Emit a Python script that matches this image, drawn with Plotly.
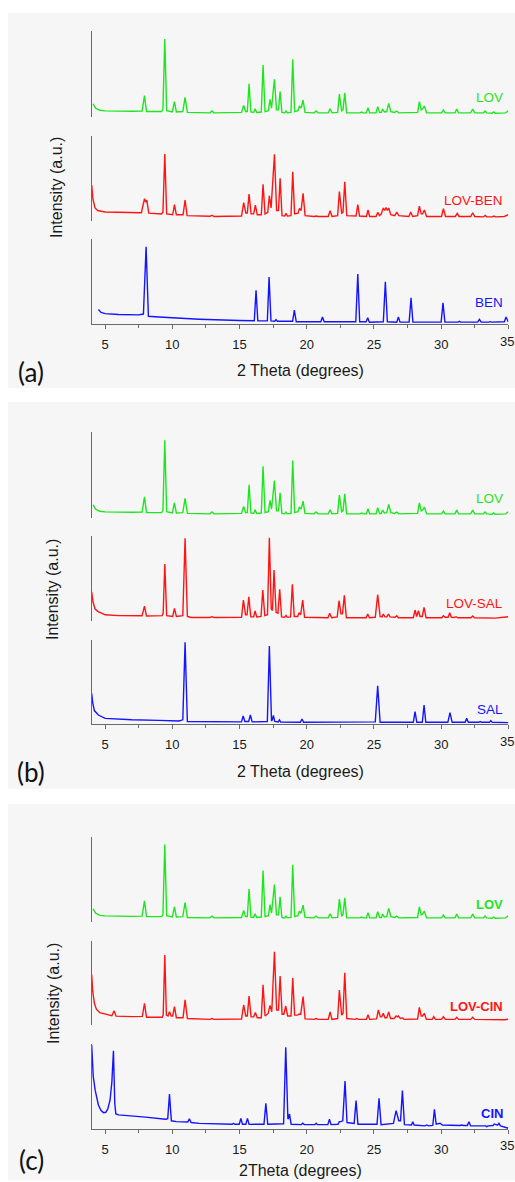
import plotly.graph_objects as go

# ---------------- data (2-theta in degrees, intensity in % of each strip) ----------------
LOV = [(4.1, 15), (4.3, 10), (4.6, 7.5), (5.0, 6.8), (7.0, 6.3), (7.75, 6.5), (7.93, 24.5), (8.08, 6),
       (9.2, 6), (9.3, 8), (9.44, 90.7), (9.58, 7), (10.0, 5.5), (10.16, 17.5), (10.3, 5.5), (10.78, 6),
       (10.95, 22.6), (11.12, 5), (12.8, 4.5), (12.96, 6.6), (13.1, 4.5), (15.15, 5), (15.31, 13.2),
       (15.45, 6), (15.58, 6), (15.71, 38.5), (15.85, 5.5), (16.05, 5), (16.16, 9.3), (16.28, 5),
       (16.62, 5.5), (16.75, 60.3), (16.9, 6), (17.15, 7), (17.27, 20.2), (17.38, 10), (17.6, 43.6),
       (17.75, 8), (17.9, 8), (18.02, 29.2), (18.15, 5), (18.36, 4.5), (18.46, 6.6), (18.56, 4.5),
       (18.83, 5), (18.96, 66.9), (19.1, 6), (19.35, 7), (19.46, 12.5), (19.58, 10), (19.73, 19.5),
       (19.87, 5), (20.55, 4.5), (20.7, 6.6), (20.85, 4.5), (21.6, 4.5), (21.74, 9.3), (21.88, 4.5),
       (22.3, 5), (22.43, 26.5), (22.6, 7), (22.7, 8), (22.83, 28), (22.97, 4.5), (23.95, 4.5),
       (24.09, 5.5), (24.2, 4.5), (24.44, 4.5), (24.56, 10.5), (24.68, 4.5), (25.16, 4.5), (25.28, 11.7),
       (25.42, 5), (25.55, 5), (25.65, 8.9), (25.78, 5.5), (25.95, 6), (26.1, 15.6), (26.26, 6),
       (26.55, 5), (26.7, 6.6), (26.85, 4.5), (28.25, 5), (28.38, 17.5), (28.52, 8), (28.62, 9),
       (28.75, 12.5), (28.92, 4.5), (30.03, 4.5), (30.17, 7.8), (30.3, 4.5), (31.03, 4.5), (31.16, 8.9),
       (31.3, 4.5), (32.2, 4.5), (32.35, 8.9), (32.5, 4.5), (33.15, 4.5), (33.27, 6.6), (33.4, 4.5),
       (33.78, 4), (33.9, 5.5), (34.02, 4), (34.8, 4.5), (35, 7)]

LOV_BEN = [(4.0, 42), (4.1, 25), (4.25, 15), (4.45, 12), (5, 10.2), (6, 9.8), (7.7, 9.4), (7.93, 26),
           (8.02, 22), (8.1, 24.4), (8.25, 9), (9.2, 8), (9.3, 10), (9.44, 78.7), (9.58, 8), (10.03, 7),
           (10.16, 18.9), (10.3, 7), (10.8, 7), (10.95, 24.4), (11.1, 6), (12.8, 5.2), (12.96, 6.5),
           (13.1, 5), (15.15, 5.5), (15.31, 21.3), (15.47, 9), (15.58, 9), (15.71, 31.5), (15.86, 8),
           (16.05, 8), (16.18, 18.5), (16.32, 7), (16.62, 7), (16.75, 42.9), (16.9, 8), (17.1, 10),
           (17.22, 29.5), (17.35, 15), (17.6, 78.3), (17.76, 12), (17.9, 12), (18.02, 50), (18.16, 6),
           (18.36, 5.5), (18.46, 8.7), (18.56, 5.5), (18.83, 6), (18.96, 57.9), (19.1, 8), (19.36, 9),
           (19.46, 14.6), (19.58, 12), (19.73, 32.3), (19.88, 6), (20.55, 5), (20.7, 5.5), (20.85, 5),
           (21.6, 5), (21.74, 11.8), (21.88, 5), (22.3, 6), (22.43, 34.3), (22.6, 9), (22.7, 10),
           (22.83, 46), (22.98, 6), (23.67, 5.5), (23.8, 18.9), (23.93, 5.5), (24.44, 5), (24.56, 12.6),
           (24.68, 5), (25.16, 5), (25.28, 9.8), (25.42, 6), (25.55, 8), (25.7, 15), (25.8, 12),
           (25.9, 15.7), (26.0, 12), (26.1, 15), (26.25, 7), (26.55, 6), (26.7, 10.2), (26.85, 6),
           (27.6, 5), (27.74, 10.2), (27.88, 5), (28.25, 6), (28.38, 17.3), (28.52, 8), (28.62, 8),
           (28.75, 12.6), (28.92, 5), (30.03, 5), (30.17, 14.2), (30.33, 5), (31.05, 5), (31.2, 8.7),
           (31.33, 5), (32.2, 5), (32.35, 9.4), (32.5, 5), (33.15, 4.5), (33.27, 6.3), (33.4, 4.5),
           (33.8, 4.5), (33.92, 5.5), (34.05, 4.5), (34.7, 5), (35, 7.1)]

BEN = [(4.5, 17.3), (4.7, 14), (5.0, 12.5), (6.0, 11.5), (7.5, 11), (7.85, 12), (8.05, 91), (8.22, 9.4),
       (9, 8.5), (10, 7.5), (12, 6), (15, 4.5), (16.1, 4.2), (16.23, 40), (16.36, 4), (17.07, 4),
       (17.2, 55.3), (17.34, 4), (17.62, 3.5), (17.72, 5.5), (17.82, 3.5), (18.95, 3.5), (19.08, 16.5),
       (19.22, 3), (21.05, 3), (21.17, 8.6), (21.3, 3), (23.65, 3), (23.8, 58.8), (23.94, 3),
       (24.42, 3), (24.54, 7.8), (24.66, 2.5), (25.7, 3), (25.85, 49.8), (26.0, 3), (26.7, 2.5),
       (26.82, 8.6), (26.94, 2.5), (27.62, 2.5), (27.76, 31), (27.9, 2.5), (30.0, 2.5), (30.14, 25.1),
       (30.28, 2.5), (31.25, 2.5), (31.36, 3.5), (31.47, 2.5), (32.72, 2.5), (32.85, 5.9), (32.98, 2.5),
       (33.55, 2.5), (33.64, 3.1), (33.75, 2.5), (34.7, 3), (34.83, 8.6), (35, 2.7)]

LOV_SAL = [(4.0, 34), (4.1, 22), (4.25, 14), (4.45, 11), (5.0, 7), (6, 6), (7.75, 5.8), (7.93, 17.3),
           (8.08, 5.5), (9.25, 6), (9.32, 9), (9.44, 66.9), (9.58, 6), (10.03, 5), (10.16, 14.6),
           (10.3, 5), (10.78, 6), (10.95, 97.2), (11.12, 5), (11.4, 3.8), (12.8, 3.8), (12.96, 4.7),
           (13.1, 3.8), (15.15, 4), (15.29, 24.4), (15.45, 7), (15.56, 7), (15.69, 28.3), (15.84, 4.5),
           (16.05, 4.5), (16.16, 11.4), (16.28, 4.5), (16.6, 5), (16.73, 36.2), (16.88, 6), (17.08, 7),
           (17.22, 98), (17.36, 14), (17.45, 12), (17.57, 59.8), (17.72, 10), (17.86, 9), (17.99, 37),
           (18.13, 4.5), (18.36, 4), (18.46, 6.3), (18.56, 4), (18.8, 4.5), (18.93, 42.9), (19.07, 5),
           (19.33, 5), (19.43, 9.4), (19.55, 7), (19.7, 24.4), (19.84, 4), (20.62, 3.5), (20.75, 3.9),
           (20.88, 3.5), (21.58, 3.5), (21.71, 8.7), (21.85, 3.5), (22.27, 4.5), (22.4, 23.6), (22.55, 8),
           (22.66, 8), (22.8, 29.9), (22.95, 3.5), (23.95, 3.5), (24.09, 3.9), (24.2, 3.5), (24.42, 3.5),
           (24.54, 7.9), (24.66, 3.5), (25.1, 4), (25.28, 30.7), (25.46, 5), (25.6, 4.5), (25.7, 7.9),
           (25.82, 4.5), (25.96, 4.5), (26.08, 7.9), (26.2, 4.5), (26.58, 4), (26.7, 5.9), (26.82, 3.5),
           (27.93, 3.5), (28.06, 12.6), (28.18, 5), (28.31, 11.8), (28.43, 5), (28.6, 5), (28.73, 15.7),
           (28.88, 3.5), (30.05, 3.5), (30.17, 5.9), (30.3, 4), (30.52, 4), (30.64, 9.4), (30.76, 4),
           (30.98, 3.8), (31.11, 4.7), (31.24, 3.5), (32.22, 3.5), (32.35, 5.5), (32.48, 3.5),
           (33.2, 3.3), (33.3, 3.5), (33.4, 3.3), (34.0, 3), (35, 4.7)]

SAL = [(4.0, 36.5), (4.08, 25), (4.2, 16), (4.5, 10.7), (5.0, 6.7), (7, 5), (9, 4.3), (10.5, 3.6),
       (10.78, 5), (10.95, 97.2), (11.12, 3), (12, 2.8), (15.15, 2.5), (15.27, 9.5), (15.4, 3),
       (15.68, 3), (15.81, 10.7), (15.94, 2.5), (17.07, 3), (17.22, 92.9), (17.38, 3.5), (17.44, 5),
       (17.52, 10.3), (17.62, 3), (17.88, 2.5), (17.97, 4.8), (18.06, 2.2), (19.53, 2), (19.65, 6),
       (19.77, 2), (23.74, 2), (23.84, 2.4), (23.94, 2), (25.1, 2.5), (25.28, 45.6), (25.46, 2),
       (27.93, 2), (28.06, 14.7), (28.19, 2), (28.6, 2), (28.73, 22.6), (28.86, 2), (30.5, 2),
       (30.66, 13.5), (30.82, 2), (31.78, 2), (31.9, 6.7), (32.02, 2), (32.8, 2), (32.9, 2.8), (33.0, 2),
       (33.34, 2), (33.44, 2.8), (33.54, 2), (33.6, 2), (33.7, 4), (33.8, 2), (35, 1.6)]

LOV_CIN = [(4.0, 60), (4.08, 40), (4.2, 26), (4.35, 19), (4.6, 15), (5.0, 13.4), (5.5, 11.3), (5.67, 17),
           (5.82, 10.8), (7.0, 10.3), (7.77, 10.5), (7.93, 26), (8.08, 9.5), (9.25, 9.5), (9.32, 12),
           (9.44, 83), (9.56, 12), (9.68, 11), (9.79, 16.1), (9.92, 11), (10.03, 11), (10.16, 22),
           (10.3, 9), (10.8, 9), (10.95, 30), (11.12, 8), (12.8, 7), (12.96, 7.9), (13.1, 7), (15.15, 7.5),
           (15.31, 24), (15.46, 11), (15.58, 11), (15.71, 34.6), (15.86, 10), (16.05, 10), (16.18, 15),
           (16.32, 9), (16.62, 9), (16.75, 48), (16.9, 11), (17.13, 14), (17.27, 23.6), (17.4, 16),
           (17.6, 87), (17.76, 18), (17.9, 18), (18.02, 58.3), (18.17, 13), (18.3, 13), (18.44, 22.8),
           (18.58, 11), (18.83, 11), (18.96, 56), (19.1, 12), (19.33, 12), (19.43, 13.4), (19.55, 13),
           (19.73, 33.9), (19.88, 7.5), (20.55, 7), (20.7, 7.9), (20.85, 7), (21.6, 7), (21.74, 15.7),
           (21.88, 7), (22.3, 8), (22.43, 41.7), (22.6, 12), (22.7, 14), (22.83, 62.2), (22.98, 8),
           (23.6, 7), (23.72, 7.9), (23.85, 7), (24.44, 7), (24.56, 12.6), (24.68, 7), (25.2, 7.5),
           (25.33, 18.1), (25.48, 10), (25.58, 10), (25.7, 14.2), (25.82, 9), (25.96, 9), (26.1, 15.7),
           (26.24, 8), (26.5, 8), (26.65, 11), (26.75, 10), (26.82, 11), (26.97, 8), (27.06, 8),
           (27.14, 8.7), (27.25, 7), (28.25, 7.5), (28.38, 21.3), (28.52, 11), (28.62, 11), (28.75, 14.2),
           (28.9, 7), (29.33, 7), (29.45, 10.2), (29.58, 7), (30.03, 7), (30.17, 10.2), (30.31, 7),
           (31.03, 7), (31.16, 9.4), (31.3, 7), (32.2, 7), (32.35, 9.4), (32.5, 7), (33.15, 6.7),
           (33.27, 7.1), (33.4, 6.5), (33.8, 6.5), (33.92, 7.1), (34.05, 6.5), (34.7, 6.5), (35, 7.1)]

CIN = [(4.0, 99.2), (4.05, 80), (4.12, 62), (4.26, 46), (4.5, 28.6), (4.7, 22), (4.88, 19.6), (5.05, 20),
       (5.2, 24), (5.37, 34.5), (5.5, 55), (5.62, 92.5), (5.72, 30), (5.8, 18), (6.0, 16.9), (8, 14.3),
       (9.5, 11.8), (9.66, 12.5), (9.79, 41.6), (9.93, 10), (10.3, 9), (11.15, 8.5), (11.27, 12.2),
       (11.4, 8), (12, 7), (14.45, 5.9), (14.55, 7.1), (14.65, 5.9), (14.98, 6), (15.1, 12.9),
       (15.22, 6), (15.47, 6), (15.59, 12.9), (15.71, 5.8), (16.82, 6), (16.96, 30.6), (17.1, 6),
       (18.28, 6.5), (18.44, 96.5), (18.6, 12), (18.65, 13), (18.72, 18), (18.84, 6), (19.6, 5.5),
       (19.71, 7.1), (19.82, 5.5), (20.6, 5.5), (20.7, 7.1), (20.8, 5.5), (21.57, 5.5), (21.69, 11.8),
       (21.81, 5.5), (22.33, 6), (22.43, 9), (22.55, 9), (22.68, 10), (22.85, 56.9), (23.0, 8),
       (23.53, 7), (23.67, 33.7), (23.81, 6), (25.23, 6), (25.38, 36.5), (25.53, 5.5), (26.45, 7),
       (26.65, 22), (26.85, 10), (26.98, 10), (27.12, 45.5), (27.27, 5.5), (27.79, 5), (27.89, 9),
       (27.99, 5), (28.8, 4), (28.93, 5.1), (29.06, 4), (29.38, 4.5), (29.5, 23.5), (29.63, 6),
       (29.92, 7.1), (30.1, 5), (31.4, 4.5), (31.53, 5.1), (31.65, 4.5), (31.95, 4.5), (32.07, 9),
       (32.19, 4), (33.3, 4), (33.4, 3.1), (33.5, 4), (33.86, 4.5), (33.96, 6.3), (34.1, 5), (34.2, 5),
       (34.3, 7.1), (34.42, 4), (35, 1.2)]

PANELS = [
    {"tag": "(a)", "xtitle": "2 Theta (degrees)", "bold": False,
     "series": [("LOV", LOV), ("LOV-BEN", LOV_BEN), ("BEN", BEN)]},
    {"tag": "(b)", "xtitle": "2 Theta (degrees)", "bold": False,
     "series": [("LOV", LOV), ("LOV-SAL", LOV_SAL), ("SAL", SAL)]},
    {"tag": "(c)", "xtitle": "2Theta (degrees)", "bold": True,
     "series": [("LOV", LOV), ("LOV-CIN", LOV_CIN), ("CIN", CIN)]},
]
X_TICKS = [5, 10, 15, 20, 25, 30, 35]
X_TICK_TEXT = ["5", "10", "15", "20", "25", "30", ""]   # "35" is drawn at the page edge below
LAST_TICK = "35"
COLORS = ["#1ee61e", "#ff1414", "#1414ff"]

# ---------------- layout geometry (pixels) ----------------
W, H = 515, 1182
X0, X1 = 91.67, 508.33
STRIPS = [  # (top, bottom) pixel rows of each strip's y axis
    [(31, 116.7), (136, 220.7), (239, 324.3)],
    [(432.3, 517.7), (536, 620.7), (640, 724)],
    [(836.7, 921.7), (940.7, 1025.3), (1044.3, 1129.3)],
]
BG = [(13, 388), (402, 789), (804, 1180.5)]
LABEL_Y = [[97.3, 200.7, 302.3], [498, 603, 709], [904, 1006.7, 1113]]
TICKLAB_Y = [341, 741, 1145.5]
XTITLE_Y = [370, 771, 1170]
YTITLE = [(56, 188), (52, 590), (53, 994)]
TAG_Y = [372, 772, 1160]


def px(x):
    return x / W


def py(y):
    return 1 - y / H


fig = go.Figure()
layout = {}
annotations = []
shapes = []
FONT = "Liberation Sans, Arial, sans-serif"

idx = 0
for p, panel in enumerate(PANELS):
    shapes.append(dict(type="rect", xref="paper", yref="paper", x0=px(8), x1=1.0,
                       y0=py(BG[p][1]), y1=py(BG[p][0]), fillcolor="#f6f6f6",
                       line=dict(width=0), layer="below"))
    for s, (name, pts) in enumerate(panel["series"]):
        idx += 1
        xs = [a for a, b in pts]
        ys = [b for a, b in pts]
        xa = "x" if idx == 1 else f"x{idx}"
        ya = "y" if idx == 1 else f"y{idx}"
        fig.add_trace(go.Scatter(x=xs, y=ys, mode="lines", xaxis=xa, yaxis=ya,
                                 line=dict(color=COLORS[s], width=1.4), name=name,
                                 showlegend=False, hoverinfo="x+y+name"))
        top, bot = STRIPS[p][s]
        bottom_strip = s == 2
        xkey = "xaxis" if idx == 1 else f"xaxis{idx}"
        ykey = "yaxis" if idx == 1 else f"yaxis{idx}"
        layout[xkey] = dict(domain=[px(X0), px(X1)], range=[4, 35], anchor=ya,
                            showgrid=False, zeroline=False,
                            showline=bottom_strip, linecolor="#6a6a6a", linewidth=1.2,
                            ticks="outside" if bottom_strip else "", ticklen=4, tickwidth=1,
                            tickcolor="#6a6a6a", tickvals=X_TICKS, ticktext=X_TICK_TEXT,
                            showticklabels=bottom_strip,
                            ticklabelstandoff=4,
                            tickfont=dict(family=FONT, size=13, color="#1a1a1a"),
                            minor=dict(ticks="outside" if bottom_strip else "", ticklen=3,
                                       tickcolor="#6a6a6a", dtick=2.5, tick0=7.5))
        layout[ykey] = dict(domain=[py(bot), py(top)], range=[0, 100], anchor=xa,
                            showgrid=False, zeroline=False, showticklabels=False,
                            showline=True, linecolor="#6a6a6a", linewidth=1.2, ticks="")
        annotations.append(dict(xref="paper", yref="paper", x=px(504.5), y=py(LABEL_Y[p][s]),
                                xanchor="right", yanchor="middle", showarrow=False, text=name,
                                font=dict(family=FONT, size=13.5 if not panel["bold"] else 13,
                                          color=COLORS[s],
                                          weight="bold" if panel["bold"] else "normal")))
    annotations.append(dict(xref="paper", yref="paper", x=1.0, y=py(TICKLAB_Y[p]),
                            xanchor="right", yanchor="middle", showarrow=False, text=LAST_TICK,
                            borderpad=0, font=dict(family=FONT, size=13, color="#1a1a1a")))
    annotations.append(dict(xref="paper", yref="paper", x=px(300), y=py(XTITLE_Y[p]),
                            xanchor="center", yanchor="middle", showarrow=False,
                            text=panel["xtitle"], font=dict(family=FONT, size=16, color="#1a1a1a")))
    annotations.append(dict(xref="paper", yref="paper", x=px(YTITLE[p][0]), y=py(YTITLE[p][1]),
                            xanchor="center", yanchor="middle", showarrow=False, textangle=-90,
                            text="Intensity (a.u.)", font=dict(family=FONT, size=16, color="#1a1a1a")))
    annotations.append(dict(xref="paper", yref="paper", x=px(31), y=py(TAG_Y[p]),
                            xanchor="center", yanchor="middle", showarrow=False,
                            text=panel["tag"], font=dict(family="Lato, Open Sans, sans-serif",
                                                         size=26, color="#111111")))

fig.update_layout(width=W, height=H, margin=dict(l=0, r=0, t=0, b=0),
                  paper_bgcolor="white", plot_bgcolor="rgba(0,0,0,0)",
                  annotations=annotations, shapes=shapes, **layout)
fig.write_html("out.html", config={"displayModeBar": False},
               post_script="document.body.style.margin='0';document.body.style.overflow='hidden';")
